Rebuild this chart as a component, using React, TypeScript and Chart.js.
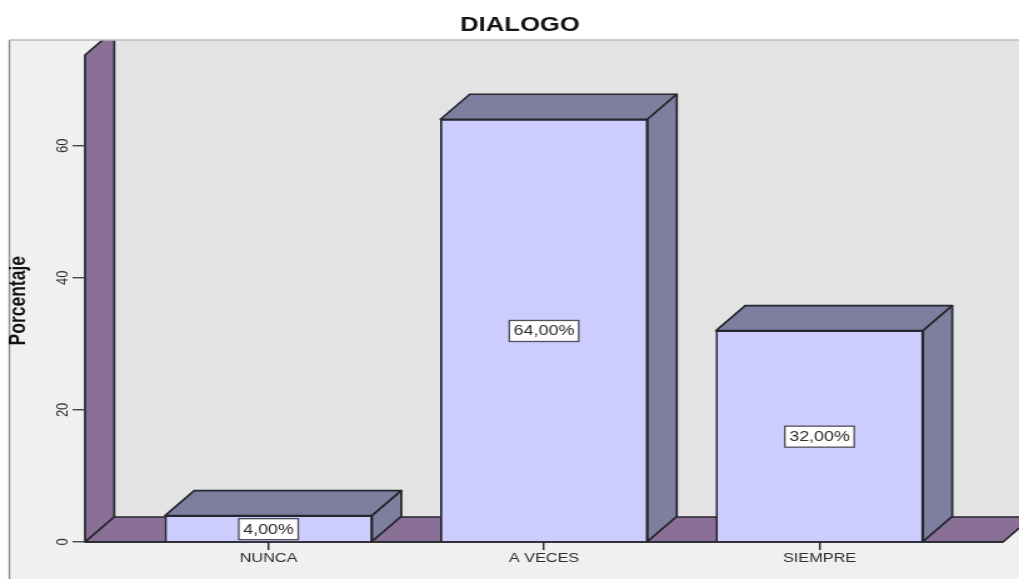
import React, { useEffect, useRef } from "react";
import { Chart, registerables } from "chart.js";

Chart.register(...registerables);

const categories = ["NUNCA", "A VECES", "SIEMPRE"];
const percentages = [4, 64, 32];
const yTicks = [0, 20, 40, 60];
const valueLabels = ["4,00%", "64,00%", "32,00%"];

const CANVAS_W = 815;
const CANVAS_H = 579;
const CSS_W = 1019;
const DEPTH_X = 23.4;
const DEPTH_Y = 25;
const OUTLINE = "#26262e";
const SANS = "'Liberation Sans', Arial, sans-serif";

function poly(ctx: any, pts: number[][], fill: string, lw = 1.7) {
  ctx.beginPath();
  pts.forEach((p, i) => (i ? ctx.lineTo(p[0], p[1]) : ctx.moveTo(p[0], p[1])));
  ctx.closePath();
  ctx.fillStyle = fill;
  ctx.fill();
  ctx.lineWidth = lw;
  ctx.strokeStyle = OUTLINE;
  ctx.lineJoin = "round";
  ctx.stroke();
}

const scenePlugin = {
  id: "scene3d",
  beforeDraw(chart: any) {
    const { ctx, chartArea: a, width, height, scales } = chart;
    const y0 = scales.y.getPixelForValue(0);
    ctx.save();
    ctx.beginPath();
    ctx.rect(0, 0, width, height);
    ctx.clip();
    // outer panel
    ctx.fillStyle = "#f0f0f0";
    ctx.fillRect(7.5, a.top, width - 7.5, height - a.top);
    ctx.strokeStyle = "#8c8c8c";
    ctx.lineWidth = 1.4;
    ctx.beginPath();
    ctx.moveTo(7.5, height);
    ctx.lineTo(7.5, a.top);
    ctx.stroke();

    // inner clip for the walls
    ctx.beginPath();
    ctx.rect(0, a.top, width, height - a.top);
    ctx.clip();
    // back wall
    ctx.fillStyle = "#e3e3e3";
    ctx.fillRect(a.left + DEPTH_X, a.top, width, y0 - DEPTH_Y - a.top);
    // left wall
    const wallTop = a.top + 15;
    poly(ctx, [
      [a.left, y0],
      [a.left, wallTop],
      [a.left + DEPTH_X, wallTop - DEPTH_Y],
      [a.left + DEPTH_X, y0 - DEPTH_Y],
    ], "#8a7096");
    // floor
    poly(ctx, [
      [a.left, y0],
      [a.right, y0],
      [a.right + DEPTH_X, y0 - DEPTH_Y],
      [a.left + DEPTH_X, y0 - DEPTH_Y],
    ], "#8a7096");
    ctx.restore();
    // top edge of the panel
    ctx.save();
    ctx.strokeStyle = "#bdbdbd";
    ctx.lineWidth = 1.4;
    ctx.beginPath();
    ctx.moveTo(7.5, a.top);
    ctx.lineTo(width, a.top);
    ctx.stroke();
    ctx.restore();
  },
  beforeDatasetsDraw(chart: any) {
    const { ctx } = chart;
    const meta = chart.getDatasetMeta(0);
    ctx.save();
    meta.data.forEach((bar: any) => {
      const { x, y, base, width } = bar.getProps(["x", "y", "base", "width"], true);
      const l = x - width / 2;
      const r = x + width / 2;
      poly(ctx, [
        [l, y],
        [l + DEPTH_X, y - DEPTH_Y],
        [r + DEPTH_X, y - DEPTH_Y],
        [r, y],
      ], "#7e7e9e");
      poly(ctx, [
        [r, y],
        [r + DEPTH_X, y - DEPTH_Y],
        [r + DEPTH_X, base - DEPTH_Y],
        [r, base],
      ], "#7e7e9e");
    });
    ctx.restore();
  },
  afterDatasetsDraw(chart: any) {
    const { ctx, scales } = chart;
    const meta = chart.getDatasetMeta(0);
    const y0 = scales.y.getPixelForValue(0);
    ctx.save();
    ctx.font = `14.3px ${SANS}`;
    ctx.textAlign = "center";
    ctx.textBaseline = "middle";
    // baseline drawn over the feet of the bars
    ctx.strokeStyle = OUTLINE;
    ctx.lineWidth = 1.7;
    ctx.beginPath();
    ctx.moveTo(chart.chartArea.left, y0);
    ctx.lineTo(chart.chartArea.right, y0);
    ctx.stroke();
    meta.data.forEach((bar: any, i: number) => {
      const { x, y, base } = bar.getProps(["x", "y", "base"], true);
      const cy = (y + base) / 2 + 0.7;
      const tw = ctx.measureText(valueLabels[i]).width;
      const bw = tw + 7;
      const bh = 21;
      ctx.fillStyle = "#ffffff";
      ctx.fillRect(x - bw / 2, cy - bh / 2, bw, bh);
      ctx.strokeStyle = "#50505a";
      ctx.lineWidth = 1.3;
      ctx.strokeRect(x - bw / 2, cy - bh / 2, bw, bh);
      ctx.fillStyle = "#2c2c2c";
      ctx.fillText(valueLabels[i], x, cy + 0.5);
    });
    ctx.restore();
  },
};

export default function App() {
  const ref = useRef<HTMLCanvasElement>(null);
  useEffect(() => {
    document.body.style.margin = "0";
    document.body.style.background = "#ffffff";
    const chart = new Chart(ref.current as HTMLCanvasElement, {
      type: "bar",
      data: {
        datasets: [
          {
            label: "Porcentaje",
            data: percentages.map((v, i) => ({ x: i, y: v })),
            backgroundColor: "#ccccff",
            borderColor: OUTLINE,
            borderWidth: 1.7,
            barThickness: 165.6,
          },
        ],
      },
      options: {
        responsive: false,
        animation: false,
        devicePixelRatio: 1,
        layout: { padding: { left: 29.6, right: 12.8, top: 0, bottom: 0 } },
        plugins: {
          legend: { display: false },
          tooltip: { enabled: false },
          title: {
            display: true,
            text: "DIALOGO",
            color: "#141414",
            font: { family: SANS, size: 20.5, weight: "bold", lineHeight: 1.2 },
            padding: { top: 13.4, bottom: 2 },
          },
        },
        scales: {
          x: {
            type: "linear",
            offset: false,
            min: -0.666,
            max: 2.666,
            afterBuildTicks: (axis: any) => {
              axis.ticks = categories.map((_, i) => ({ value: i }));
            },
            afterFit: (axis: any) => {
              axis.height = 37;
            },
            grid: { offset: false, drawOnChartArea: false, drawTicks: true, tickLength: 8, color: OUTLINE, lineWidth: 1.4 },
            border: { display: false },
            ticks: {
              autoSkip: false,
              maxRotation: 0,
              minRotation: 0,
              padding: 1,
              color: "#2e2e2e",
              font: { family: SANS, size: 13 },
              callback: (v: any) => categories[Number(v)],
            },
          },
          y: {
            min: 0,
            max: 76,
            afterBuildTicks: (axis: any) => {
              axis.ticks = yTicks.map((value) => ({ value }));
            },
            afterFit: (axis: any) => {
              axis.width = 38.4;
            },
            grid: { drawOnChartArea: false, drawTicks: true, tickLength: 10, color: "#45454d", lineWidth: 1.4 },
            border: { display: false },
            ticks: {
              minRotation: 90,
              maxRotation: 90,
              crossAlign: "center",
              padding: 0,
              color: "#2e2e2e",
              font: { family: SANS, size: 13 },
            },
            title: {
              display: true,
              text: "Porcentaje    ",
              color: "#111111",
              font: { family: SANS, size: 17.5, weight: "bold", lineHeight: 1.2 },
              padding: { top: -25, bottom: 0 },
            },
          },
        },
      },
      plugins: [scenePlugin],
    } as any);
    return () => chart.destroy();
  }, []);
  return (
    <canvas
      ref={ref}
      width={CANVAS_W}
      height={CANVAS_H}
      style={{ display: "block", width: CSS_W + "px", height: CANVAS_H + "px", filter: "blur(0.4px)" }}
    />
  );
}
